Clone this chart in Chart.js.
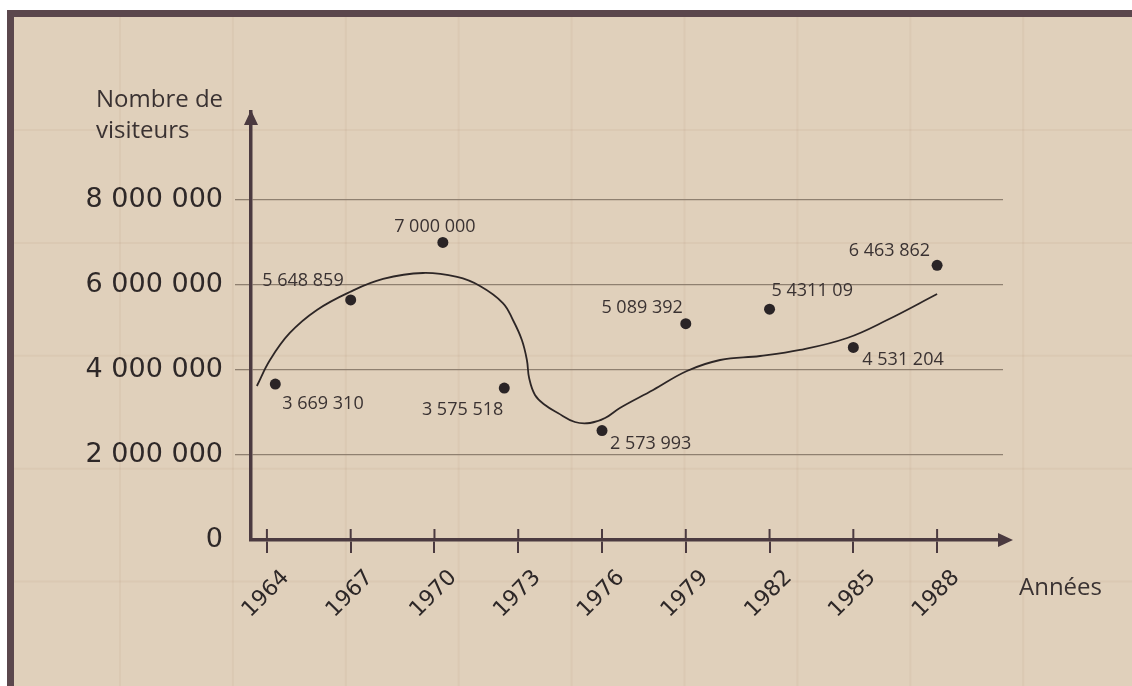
<!DOCTYPE html>
<html>
<head>
<meta charset="utf-8">
<script src="https://cdn.jsdelivr.net/npm/chart.js@4.4.1/dist/chart.umd.min.js"></script>
<style>
  html, body { margin: 0; padding: 0; background: #ffffff; }
  canvas { display: block; }
</style>
</head>
<body>
<canvas id="chart" width="1132" height="686"></canvas>
<script>
// years shown under the x axis
const years = [1964, 1967, 1970, 1973, 1976, 1979, 1982, 1985, 1988];
// y axis ticks
const yTicks = [0, 2000000, 4000000, 6000000, 8000000];

const pointYears = [1964.3, 1967, 1970.3, 1972.5, 1976, 1979, 1982, 1985, 1988];
const visitors = [3669310, 5648859, 7000000, 3575518, 2573993, 5089392, 5431109, 4531204, 6463862];
const pointLabels = ['3 669 310', '5 648 859', '7 000 000', '3 575 518', '2 573 993', '5 089 392', '5 4311 09', '4 531 204', '6 463 862'];

// hand drawn trend curve
const trendYears = [1963.64, 1964.11, 1964.82, 1965.79, 1966.97, 1968.16, 1969.59, 1970.81, 1971.63, 1972.45,
  1972.81, 1973.13, 1973.31, 1973.39, 1973.60, 1973.96, 1974.42, 1975.03, 1975.57, 1976.11,
  1976.64, 1977.83, 1979.04, 1980.23, 1981.66, 1983.09, 1984.78, 1986.21, 1988.00];
const trendValues = [3624000, 4235000, 4871000, 5412000, 5835000, 6141000, 6282000, 6188000, 5976000, 5576000,
  5176000, 4706000, 4235000, 3812000, 3412000, 3176000, 2988000, 2776000, 2753000, 2871000,
  3106000, 3529000, 3976000, 4235000, 4329000, 4471000, 4753000, 5176000, 5788000];

// axis ranges
const xMin = 1963.43, xMax = 1990.36;
const yMax = 10070000;

const INK = '#2e2828';
const AXIS = '#4b3a40';

// label placement next to each dot: dx, dy, align
const labelPlace = [[7, 25, 'left'], [-7, -14, 'right'], [-8, -10, 'center'], [-1, 27, 'right'], [8, 18, 'left'],
  [-3, -11, 'right'], [2, -13, 'left'], [9, 18, 'left'], [-7, -9, 'right']];

function spaced(v) {
  return String(v).replace(/\B(?=(\d{3})+(?!\d))/g, ' ');
}

const paper = {
  id: 'paper',
  beforeDraw(chart) {
    const c = chart.ctx, w = chart.width, h = chart.height;
    c.save();
    c.fillStyle = '#ffffff';
    c.fillRect(0, 0, w, h);
    c.fillStyle = '#e0d0bb';
    c.fillRect(7, 10, w - 7, h - 10);
    // faint squares of the paper
    c.strokeStyle = 'rgba(150, 120, 90, 0.07)';
    c.lineWidth = 2;
    for (let x = 120; x < w; x += 112.9) {
      c.beginPath(); c.moveTo(x, 17); c.lineTo(x, h); c.stroke();
    }
    for (let y = 130; y < h; y += 112.9) {
      c.beginPath(); c.moveTo(14, y); c.lineTo(w, y); c.stroke();
    }
    c.fillStyle = '#5b474d';
    c.fillRect(7, 10, w - 7, 7);
    c.fillRect(7, 10, 7, h - 10);
    c.restore();
  }
};

const notes = {
  id: 'notes',
  afterDraw(chart) {
    const c = chart.ctx, a = chart.chartArea;
    const xs = chart.scales.x, ys = chart.scales.y;
    c.save();
    // arrow heads
    c.fillStyle = AXIS;
    c.beginPath();
    c.moveTo(a.left, a.top - 2);
    c.lineTo(a.left - 7, a.top + 13);
    c.lineTo(a.left + 7, a.top + 13);
    c.closePath(); c.fill();
    c.strokeStyle = AXIS; c.lineWidth = 3.5;
    c.beginPath(); c.moveTo(a.right - 2, a.bottom); c.lineTo(a.right + 2, a.bottom); c.stroke();
    c.beginPath();
    c.moveTo(a.right + 10, a.bottom);
    c.lineTo(a.right - 5, a.bottom - 7);
    c.lineTo(a.right - 5, a.bottom + 7);
    c.closePath(); c.fill();
    // upper part of the year ticks
    c.lineWidth = 2;
    years.forEach(function (yr) {
      const px = xs.getPixelForValue(yr);
      c.beginPath(); c.moveTo(px, a.bottom - 11); c.lineTo(px, a.bottom); c.stroke();
    });
    // value labels
    c.fillStyle = '#3a3232';
    c.font = '18px "Open Sans"';
    c.textBaseline = 'alphabetic';
    for (let i = 0; i < visitors.length; i++) {
      const px = xs.getPixelForValue(pointYears[i]);
      const py = ys.getPixelForValue(visitors[i]);
      c.textAlign = labelPlace[i][2];
      c.fillText(pointLabels[i], px + labelPlace[i][0], py + labelPlace[i][1]);
    }
    // axis titles
    c.font = '24px "Open Sans"';
    c.textAlign = 'left';
    c.fillText('Nombre de', 96, 107);
    c.fillText('visiteurs', 96, 138);
    c.fillText('Années', 1019, 595);
    c.restore();
  }
};

const ctx = document.getElementById('chart');
new Chart(ctx, {
  type: 'scatter',
  data: {
    datasets: [
      {
        label: 'visiteurs',
        data: pointYears.map((x, i) => ({ x: x, y: visitors[i] })),
        pointRadius: 5.5,
        pointBackgroundColor: '#2a2426',
        pointBorderWidth: 0,
        order: 1
      },
      {
        label: 'tendance',
        data: trendYears.map((x, i) => ({ x: x, y: trendValues[i] })),
        showLine: true,
        tension: 0.4,
        borderColor: '#2d2626',
        borderWidth: 1.8,
        pointRadius: 0,
        fill: false,
        order: 2
      }
    ]
  },
  options: {
    responsive: false,
    animation: false,
    devicePixelRatio: 1,
    layout: { padding: { left: 0, top: 112, right: 129, bottom: 0 } },
    plugins: { legend: { display: false }, tooltip: { enabled: false } },
    scales: {
      x: {
        type: 'linear',
        min: xMin,
        max: xMax,
        afterBuildTicks: s => { s.ticks = years.map(v => ({ value: v })); },
        afterFit: s => { s.height = 146; },
        grid: { drawOnChartArea: false, tickLength: 13, color: AXIS, lineWidth: 2 },
        border: { color: AXIS, width: 3.5 },
        ticks: {
          autoSkip: false, minRotation: 45, maxRotation: 45,
          labelOffset: 19, padding: 12, color: INK,
          font: { family: 'DejaVu Sans', size: 22 },
          callback: v => String(v)
        }
      },
      y: {
        min: 0,
        max: yMax,
        afterBuildTicks: s => { s.ticks = yTicks.map(v => ({ value: v })); },
        afterFit: s => { s.width = 251; },
        grid: {
          color: c => (c.tick && c.tick.value === 0 ? 'rgba(0,0,0,0)' : '#8f8070'),
          lineWidth: 1.3,
          tickLength: 16
        },
        border: { color: AXIS, width: 3.5 },
        ticks: {
          padding: 12, color: INK,
          font: { family: 'DejaVu Sans', size: 27 },
          callback: v => spaced(v)
        }
      }
    }
  },
  plugins: [paper, notes]
});
</script>
</body>
</html>
